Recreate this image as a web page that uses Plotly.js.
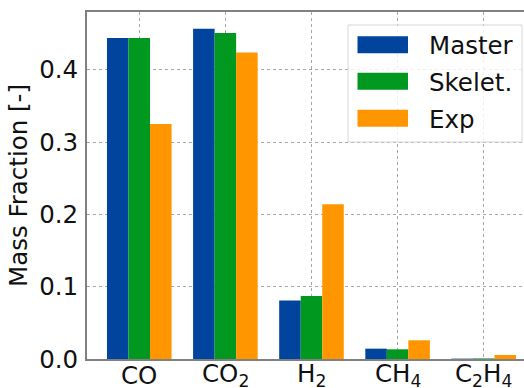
<!DOCTYPE html>
<html>
<head>
<meta charset="utf-8">
<script src="https://cdn.plot.ly/plotly-3.0.1.min.js"></script>
<style>html,body{margin:0;padding:0;background:#fff;}#chart{width:524px;height:388px;}</style>
</head>
<body>
<div id="chart"></div>
<script>
const categories = ["CO", "CO<sub>2</sub>", "H<sub>2</sub>", "CH<sub>4</sub>", "C<sub>2</sub>H<sub>4</sub>"];
const seriesNames = ["Master", "Skelet.", "Exp"];
const master = [0.444, 0.457, 0.081, 0.0143, 0.0005];
const skelet = [0.444, 0.451, 0.087, 0.0134, 0.0008];
const exp = [0.325, 0.424, 0.214, 0.0259, 0.0055];
const colors = ["#00449e", "#00981f", "#ff9600"];
const yTicks = [0.0, 0.1, 0.2, 0.3, 0.4];

const FS = 24.5;
const FONT = {size: FS, family: "DejaVu Sans", color: "#111"};

const values = [master, skelet, exp];
const traces = values.map((v, i) => ({
  type: "bar",
  x: categories.map((c, j) => j),
  y: v,
  name: seriesNames[i],
  marker: {color: colors[i], line: {width: 0}},
  showlegend: false,
  hoverinfo: "none"
}));

// plot-area geometry in pixels (for the hand-built legend)
const L = 87, T = 12, W = 437, H = 347;
const px = x => (x - L) / W;
const py = y => (T + H - y) / H;

const shapes = [{
  type: "rect", xref: "paper", yref: "paper", layer: "above",
  x0: px(348), x1: px(522), y0: py(142), y1: py(25),
  line: {color: "#d6d6d6", width: 1}, fillcolor: "rgba(255,255,255,0.8)"
}];
const annotations = [];
const rowY = [44.7, 81.3, 118.3];
seriesNames.forEach((n, i) => {
  shapes.push({
    type: "rect", xref: "paper", yref: "paper", layer: "above",
    x0: px(357.5), x1: px(408), y0: py(rowY[i] + 8.5), y1: py(rowY[i] - 8.5),
    line: {width: 0}, fillcolor: colors[i]
  });
  annotations.push({
    xref: "paper", yref: "paper", x: px(427), y: py(rowY[i] + 1),
    xanchor: "left", yanchor: "middle", showarrow: false,
    text: n, font: FONT
  });
});
// category labels under the axis
categories.forEach((c, j) => {
  annotations.push({
    xref: "x", yref: "paper", x: j, y: py(375),
    xanchor: "center", yanchor: "middle", showarrow: false,
    text: c, font: FONT
  });
});

const layout = {
  width: 524, height: 388,
  margin: {l: L, r: 0, t: T, b: 388 - T - H, pad: 0},
  paper_bgcolor: "#fff", plot_bgcolor: "#fff",
  font: FONT,
  barmode: "group", bargap: 0.25, bargroupgap: 0,
  showlegend: false,
  xaxis: {
    type: "linear", range: [-0.607, 4.468],
    tickvals: categories.map((c, j) => j), showticklabels: false,
    showline: true, mirror: true, linecolor: "#808080", linewidth: 2,
    showgrid: true, gridcolor: "#a8a8a8", griddash: "dot", gridwidth: 1,
    ticks: "", zeroline: false
  },
  yaxis: {
    range: [0, 0.48], tickvals: yTicks, ticktext: yTicks.map(v => v.toFixed(1)),
    showline: true, linecolor: "#808080", linewidth: 2,
    showgrid: true, gridcolor: "#a8a8a8", griddash: "dot", gridwidth: 1,
    ticks: "", ticklabelstandoff: 2, zeroline: false,
    tickfont: FONT,
    title: {text: "Mass Fraction [-]", font: FONT, standoff: 5}
  },
  shapes: shapes,
  annotations: annotations
};

Plotly.newPlot("chart", traces, layout, {staticPlot: true, displayModeBar: false});
</script>
</body>
</html>
